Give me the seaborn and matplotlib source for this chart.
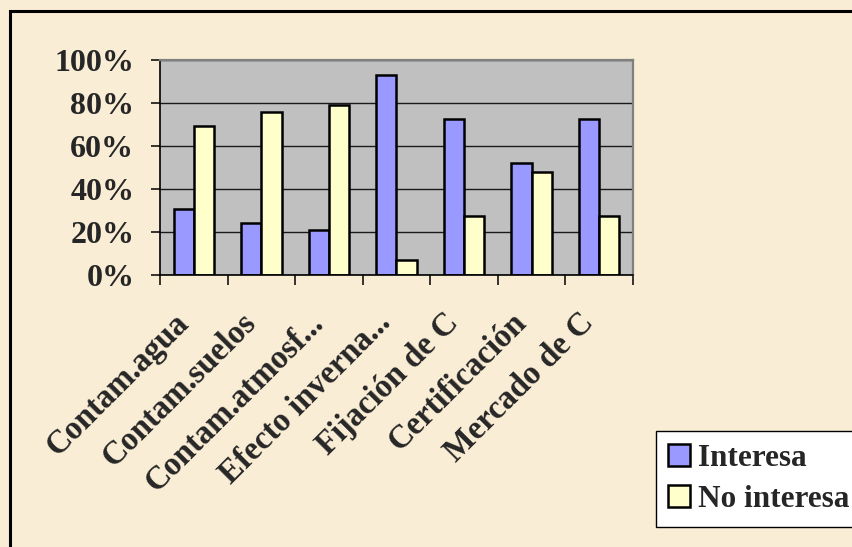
import numpy as np
import pandas as pd
import matplotlib
matplotlib.use("Agg")
import matplotlib.pyplot as plt
from matplotlib.patches import Rectangle
from matplotlib.ticker import FuncFormatter
from matplotlib.transforms import ScaledTranslation
import seaborn as sns

# Survey answers: share of respondents per topic (%)
categorias = ["Contam.agua", "Contam.suelos", "Contam.atmosf...", "Efecto inverna...",
              "Fijación de C", "Certificación", "Mercado de C"]
interesa = [30.5, 24, 21, 93, 72.5, 52, 72.5]
no_interesa = [69.5, 76, 79, 7, 27.5, 48, 27.5]
series = ["Interesa", "No interesa"]
y_ticks = [0, 20, 40, 60, 80, 100]

df = pd.DataFrame({
    "categoria": categorias * 2,
    "valor": interesa + no_interesa,
    "serie": [series[0]] * len(categorias) + [series[1]] * len(categorias),
})

sns.set_theme(style="white")
plt.rcParams["font.family"] = ["Liberation Serif", "DejaVu Serif"]
plt.rcParams["font.weight"] = "bold"

fig = plt.figure(figsize=(8.53, 5.47), dpi=100)
fig.patch.set_facecolor("#faedd5")

# outer chart frame (runs off the right and bottom edges)
fig.patches.append(Rectangle((10 / 853, -0.05), 1.0, 0.05 + 1 - 11 / 547,
                             transform=fig.transFigure, fill=False,
                             edgecolor="black", linewidth=2.2, zorder=0))

ax = fig.add_axes([160 / 853, 1 - 275 / 547, 473 / 853, 215 / 547])
ax.set_facecolor("#c0c0c0")

sns.barplot(data=df, x="categoria", y="valor", hue="serie", hue_order=series,
            palette=["#9999ff", "#ffffcc"], saturation=1, width=0.6,
            edgecolor="black", linewidth=1.8, ax=ax, legend=True)

ax.set_ylim(0, 100)
ax.set_xlim(-0.5, len(categorias) - 0.5)
ax.set_yticks(y_ticks)
ax.yaxis.set_major_formatter(FuncFormatter(lambda v, _: f"{v:.0f}%"))
ax.yaxis.grid(True, color="#1a1a1a", linewidth=1.0)
ax.xaxis.grid(False)
ax.set_axisbelow(True)
ax.set_xlabel("")
ax.set_ylabel("")

for side in ("left", "bottom"):
    ax.spines[side].set_color("black")
    ax.spines[side].set_linewidth(1.2)
for side in ("top", "right"):
    ax.spines[side].set_color("#808080")
    ax.spines[side].set_linewidth(1.6)

ax.tick_params(axis="y", which="major", direction="out", length=6.5, width=1.1,
               color="black", pad=12, labelsize=23, left=True)
ax.set_xticks(np.arange(-0.5, len(categorias), 1), minor=True)
ax.tick_params(axis="x", which="minor", direction="out", length=7.5, width=1.1,
               color="black", bottom=True)
ax.tick_params(axis="x", which="major", length=0, pad=31, labelsize=23.5)
shift = ScaledTranslation(-10 / 100, 0, fig.dpi_scale_trans)
for lbl in ax.get_xticklabels():
    lbl.set_rotation(45)
    lbl.set_ha("right")
    lbl.set_va("center")
    lbl.set_rotation_mode("anchor")
    lbl.set_fontweight("bold")
    lbl.set_transform(lbl.get_transform() + shift)
for lbl in ax.get_yticklabels():
    lbl.set_fontweight("bold")

handles, labels = ax.get_legend_handles_labels()
ax.legend(handles, labels, loc="upper left",
          bbox_to_anchor=(656 / 853, 1 - 431 / 547), bbox_transform=fig.transFigure,
          frameon=True, fancybox=False, framealpha=1, facecolor="white",
          edgecolor="black", prop={"size": 22.5, "weight": "bold"},
          handlelength=0.7, handleheight=0.7, handletextpad=0.25,
          borderpad=0.4, labelspacing=0.4, borderaxespad=0)
ax.get_legend().get_frame().set_linewidth(1.0)

fig.savefig("out.png", dpi=100, facecolor=fig.get_facecolor())
